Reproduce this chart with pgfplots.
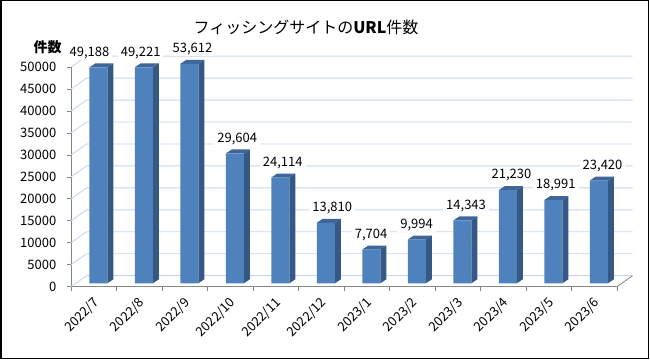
\documentclass[border=0pt]{standalone}
\usepackage{fontspec}
\setmainfont{Noto Sans CJK JP}
\usepackage{pgfplots}
\usepackage{pgfplotstable}
\pgfplotsset{compat=1.18}

\definecolor{frontc}{RGB}{79,129,189}
\definecolor{sidec}{RGB}{53,88,132}
\definecolor{topc}{RGB}{62,102,154}
\definecolor{gridc}{RGB}{198,213,235}
\definecolor{axgray}{RGB}{134,134,134}

\newcommand\numfont{\fontsize{13bp}{15bp}\selectfont}

% x = category index, y = URL count, dx = label offset (bp)
\pgfplotstableread{
x y dx
0 49188 -4.3
1 49221 1.4
2 53612 7.7
3 29604 7
4 24114 7
5 13810 11
6 7704 4.3
7 9994 4.3
8 14343 8.3
9 21230 8.2
10 18991 7
11 23420 8.3
}\datatable

% geometry in axis units
\def\xl{-0.0989}
\def\xr{0.2967}
\def\ddx{0.1319}
\def\ddy{911}
\def\yb{752}

\begin{document}
\begin{tikzpicture}
\useasboundingbox (0,0) rectangle (650bp,360bp);
\begin{axis}[
  at={(71bp,73.3bp)}, anchor=south west,
  scale only axis, width=546bp, height=219.5bp,
  xmin=-0.5, xmax=11.5, ymin=0, ymax=50000,
  clip=false,
  axis x line*=bottom, axis y line*=left,
  axis line style={draw=axgray, line width=0.8bp},
  tick style={draw=axgray, line width=0.8bp},
  tick align=outside, major tick length=4.5bp,
  ytick={0,5000,10000,15000,20000,25000,30000,35000,40000,45000,50000},
  scaled y ticks=false,
  /pgf/number format/assume math mode=true,
  yticklabel style={font=\numfont, text=black, anchor=east, inner sep=0pt, xshift=-10bp, /pgf/number format/1000 sep={}},
  xtick={-0.5,0.5,...,11.5}, xticklabels={},
  extra x ticks={0,1,2,3,4,5,6,7,8,9,10,11},
  extra x tick labels={2022/7,2022/8,2022/9,2022/10,2022/11,2022/12,2023/1,2023/2,2023/3,2023/4,2023/5,2023/6},
  extra x tick style={major tick length=0pt, tick label style={font=\numfont, text=black, xshift=3bp, yshift=-14bp, rotate=45, anchor=east, inner sep=0pt}},
]
% back wall / side wall gridlines
\pgfplotsinvokeforeach{0,5000,10000,15000,20000,25000,30000,35000,40000,45000,50000}{
  \draw[gridc, line width=0.9bp] (axis cs:-0.5,#1) -- ++(15.5bp,11bp) -- ([shift={(15.5bp,11bp)}]axis cs:11.5,#1);
}
\draw[axgray, line width=0.8bp] (axis cs:11.5,0) -- ++(15.5bp,11bp);

% side and top faces of the bars (bars are cut at the axis maximum, 50000)
\pgfplotsinvokeforeach{0,...,11}{%
  \pgfplotstablegetelem{#1}{y}\of\datatable
  \edef\hv{\fpeval{min(\pgfplotsretval,50000)}}%
  \edef\facecmds{%
    \noexpand\addplot[fill=sidec, draw=none] coordinates {(\fpeval{#1+\xr},\fpeval{\yb}) (\fpeval{#1+\xr+\ddx},\fpeval{\yb+\ddy}) (\fpeval{#1+\xr+\ddx},\fpeval{\hv+\yb+\ddy}) (\fpeval{#1+\xr},\fpeval{\hv+\yb})};%
    \noexpand\addplot[fill=topc, draw=none] coordinates {(\fpeval{#1+\xl},\fpeval{\hv+\yb}) (\fpeval{#1+\xr},\fpeval{\hv+\yb}) (\fpeval{#1+\xr+\ddx},\fpeval{\hv+\yb+\ddy}) (\fpeval{#1+\xl+\ddx},\fpeval{\hv+\yb+\ddy})};%
  }%
  \facecmds
}
% front faces
\addplot[ybar, bar width=18bp, bar shift=4.5bp, fill=frontc, draw=none, yshift=3.3bp] table[x=x,y expr={min(\thisrow{y},50000)}]{\datatable};

% value labels
\addplot[draw=none, nodes near coords={\pgfmathprintnumber[fixed,precision=0,1000 sep={,}]{\pgfplotspointmeta}},
  point meta=explicit,
  nodes near coords style={anchor=center, fill=white, inner xsep=3bp, inner ysep=1bp, font=\numfont, text=black}]
  table[x expr=\thisrow{x}+\thisrow{dx}/45.5, y expr={min(\thisrow{y},50000)+4100}, meta=y]{\datatable};
\end{axis}
\node[font=\fontsize{16bp}{18bp}\selectfont] at (306bp,333bp) {フィッシングサイトの{\bfseries URL}件数};
\node[font=\fontsize{14bp}{16bp}\selectfont\bfseries] at (47.5bp,312.8bp) {件数};
\draw[line width=1.5bp] (0.75bp,1.5bp) rectangle (648.5bp,359.25bp);
\end{tikzpicture}
\end{document}
